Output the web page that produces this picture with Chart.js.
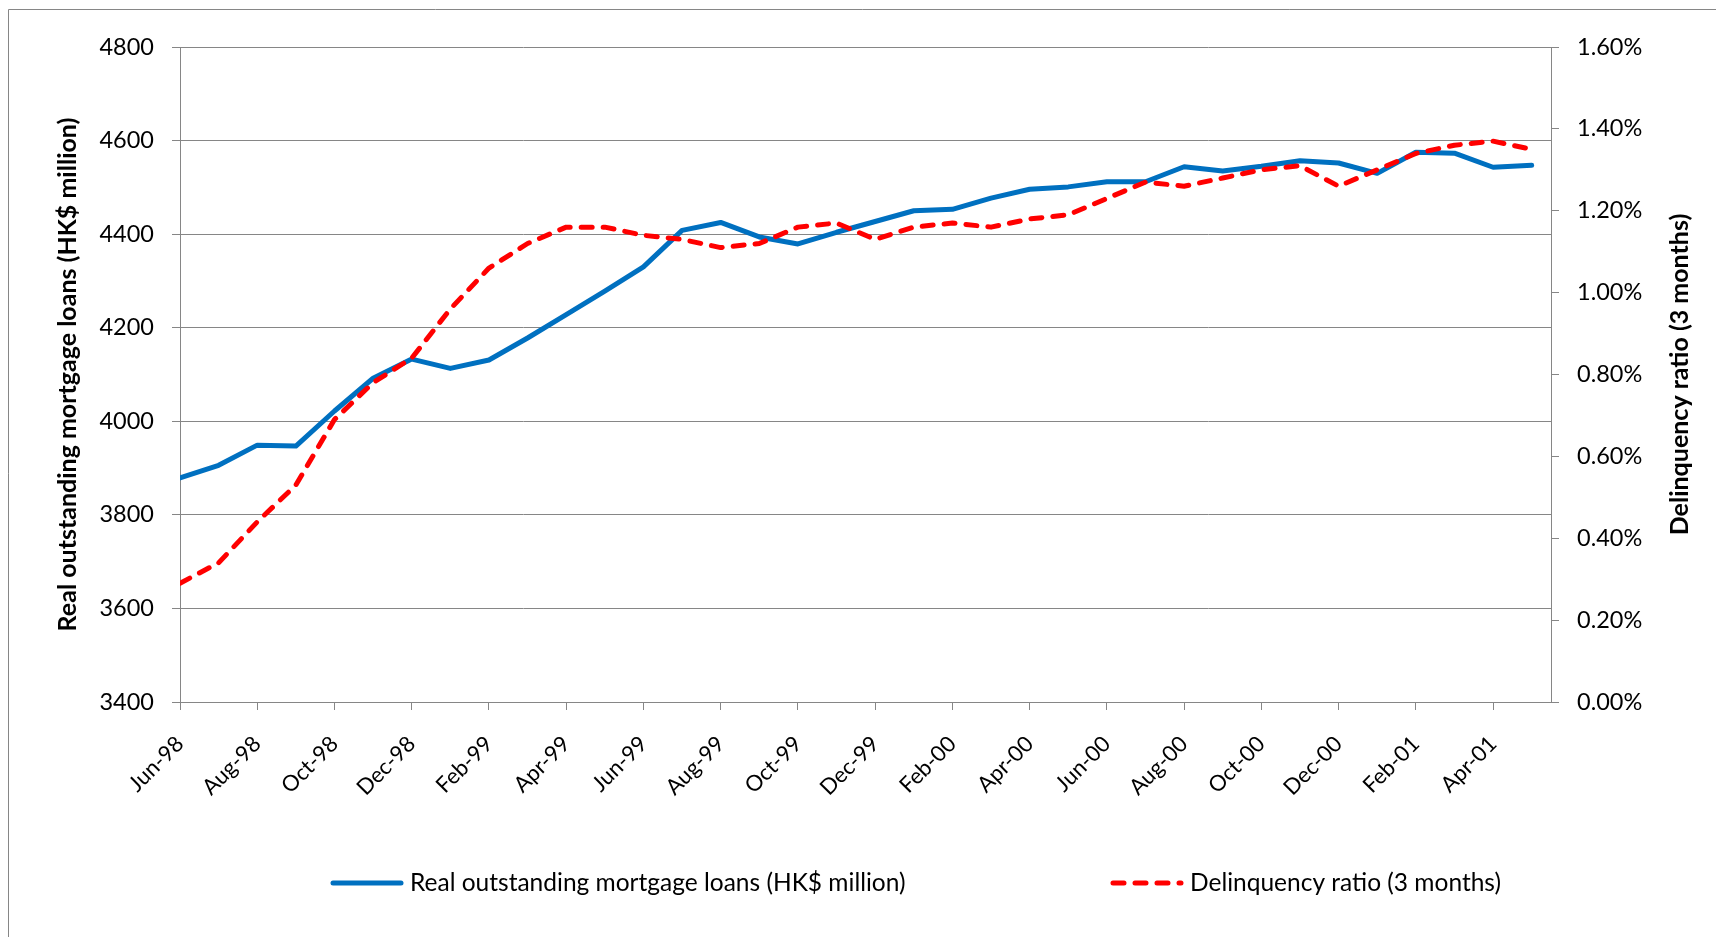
<!DOCTYPE html>
<html>
<head>
<meta charset="utf-8">
<title>Mortgage loans and delinquency ratio</title>
<script src="https://cdn.jsdelivr.net/npm/chart.js@4.4.1/dist/chart.umd.min.js"></script>
<style>
  html, body { margin: 0; padding: 0; background: #fff; overflow: hidden; }
  canvas { display: block; }
</style>
</head>
<body>
<canvas id="chart" width="1716" height="937"></canvas>
<script>
// monthly data, Jun-98 .. May-01
const months = [
  'Jun-98', 'Jul-98', 'Aug-98', 'Sep-98', 'Oct-98', 'Nov-98', 'Dec-98',
  'Jan-99', 'Feb-99', 'Mar-99', 'Apr-99', 'May-99', 'Jun-99', 'Jul-99', 'Aug-99', 'Sep-99', 'Oct-99', 'Nov-99', 'Dec-99',
  'Jan-00', 'Feb-00', 'Mar-00', 'Apr-00', 'May-00', 'Jun-00', 'Jul-00', 'Aug-00', 'Sep-00', 'Oct-00', 'Nov-00', 'Dec-00',
  'Jan-01', 'Feb-01', 'Mar-01', 'Apr-01', 'May-01'
];
const loans = [
  3879, 3906, 3949, 3947, 4022, 4092, 4133,
  4113, 4131, 4178, 4228, 4278, 4330, 4408, 4425, 4394, 4379, 4404, 4427,
  4450, 4453, 4477, 4496, 4501, 4512, 4512, 4544, 4535, 4545, 4557, 4552,
  4530, 4575, 4573, 4543, 4547
];
const delinquency = [ // percent
  0.29, 0.34, 0.44, 0.53, 0.69, 0.78, 0.84,
  0.96, 1.06, 1.12, 1.16, 1.16, 1.14, 1.13, 1.11, 1.12, 1.16, 1.17, 1.13,
  1.16, 1.17, 1.16, 1.18, 1.19, 1.23, 1.27, 1.26, 1.28, 1.30, 1.31, 1.26,
  1.30, 1.34, 1.36, 1.37, 1.35
];
const loanRange = [3400, 4800, 200];
const ratioRange = [0, 1.6, 0.2];
const loanLabel = 'Real outstanding mortgage loans (HK$ million)';
const ratioLabel = 'Delinquency ratio (3 months)';

const GRID = '#868686';
const FONT = 'Lato, "Open Sans", sans-serif';

// grey frame of the chart box (only top and left edge are inside the window)
const frame = {
  id: 'frame',
  beforeDraw(chart) {
    const { ctx, width, height } = chart;
    ctx.save();
    ctx.strokeStyle = GRID;
    ctx.lineWidth = 1;
    ctx.beginPath();
    ctx.moveTo(8.5, height);
    ctx.lineTo(8.5, 9.5);
    ctx.lineTo(width, 9.5);
    ctx.stroke();
    ctx.restore();
  }
};

// both axis titles read bottom-to-top
const axisTitles = {
  id: 'axisTitles',
  afterDraw(chart) {
    const { ctx, chartArea } = chart;
    const cy = (chartArea.top + chartArea.bottom) / 2;
    const spots = [
      [chart.scales.y.left + 68, loanLabel],
      [chart.scales.y1.right - 36, ratioLabel]
    ];
    ctx.save();
    ctx.font = 'bold 25px ' + FONT;
    ctx.fillStyle = '#000';
    ctx.textAlign = 'center';
    ctx.textBaseline = 'middle';
    spots.forEach(([x, text]) => {
      ctx.save();
      ctx.translate(x, cy);
      ctx.rotate(-Math.PI / 2);
      ctx.fillText(text, 0, 0);
      ctx.restore();
    });
    ctx.restore();
  }
};

// legend row under the axis
const lineLegend = {
  id: 'lineLegend',
  afterDraw(chart) {
    const { ctx } = chart;
    const y = 883;
    const starts = [333, 1113];
    ctx.save();
    ctx.font = '24.5px ' + FONT;
    ctx.fillStyle = '#000';
    ctx.textBaseline = 'middle';
    chart.data.datasets.forEach((ds, i) => {
      const x = starts[i];
      ctx.save();
      ctx.strokeStyle = ds.borderColor;
      ctx.lineWidth = ds.borderWidth;
      ctx.lineCap = 'round';
      ctx.setLineDash(ds.borderDash || []);
      ctx.beginPath();
      ctx.moveTo(x, y);
      ctx.lineTo(x + 68, y);
      ctx.stroke();
      ctx.restore();
      ctx.fillText(ds.label, x + 77, y);
    });
    ctx.restore();
  }
};

const tickFont = { family: FONT, size: 23.5 };

new Chart(document.getElementById('chart'), {
  type: 'line',
  data: {
    datasets: [
      {
        label: loanLabel,
        data: loans.map((v, i) => ({ x: i, y: v })),
        yAxisID: 'y',
        borderColor: '#0070C0',
        borderWidth: 5,
        borderCapStyle: 'round',
        borderJoinStyle: 'round',
        pointRadius: 0,
        tension: 0,
        order: 1
      },
      {
        label: ratioLabel,
        data: delinquency.map((v, i) => ({ x: i, y: v })),
        yAxisID: 'y1',
        borderColor: '#FF0000',
        borderWidth: 5,
        borderDash: [11, 11],
        borderCapStyle: 'round',
        borderJoinStyle: 'round',
        pointRadius: 0,
        tension: 0,
        order: 0
      }
    ]
  },
  options: {
    responsive: false,
    animation: false,
    devicePixelRatio: 1,
    layout: { padding: { left: 0, right: 0, top: 47, bottom: 115 } },
    plugins: { legend: { display: false }, tooltip: { enabled: false } },
    scales: {
      x: {
        type: 'linear',
        min: 0,
        max: months.length - 0.5,
        grid: { drawOnChartArea: false, color: GRID, tickLength: 8 },
        border: { color: GRID },
        ticks: {
          stepSize: 2,
          includeBounds: false,
          autoSkip: false,
          maxRotation: 45,
          minRotation: 45,
          padding: 21,
          color: '#000',
          font: { family: FONT, size: 22 },
          callback: v => months[v] || ''
        },
        afterFit: s => { s.height = 120; }
      },
      y: {
        position: 'left',
        min: loanRange[0],
        max: loanRange[1],
        grid: { color: GRID, tickLength: 8 },
        border: { color: GRID },
        ticks: {
          stepSize: loanRange[2],
          padding: 18,
          color: '#000',
          font: tickFont,
          callback: v => String(v)
        },
        afterFit: s => { s.width = 180; }
      },
      y1: {
        position: 'right',
        min: ratioRange[0],
        max: ratioRange[1],
        grid: { drawOnChartArea: false, color: GRID, tickLength: 8 },
        border: { color: GRID },
        ticks: {
          stepSize: ratioRange[2],
          padding: 18,
          color: '#000',
          font: tickFont,
          callback: v => v.toFixed(2) + '%'
        },
        afterFit: s => { s.width = 165; }
      }
    }
  },
  plugins: [frame, axisTitles, lineLegend]
});
</script>
</body>
</html>
